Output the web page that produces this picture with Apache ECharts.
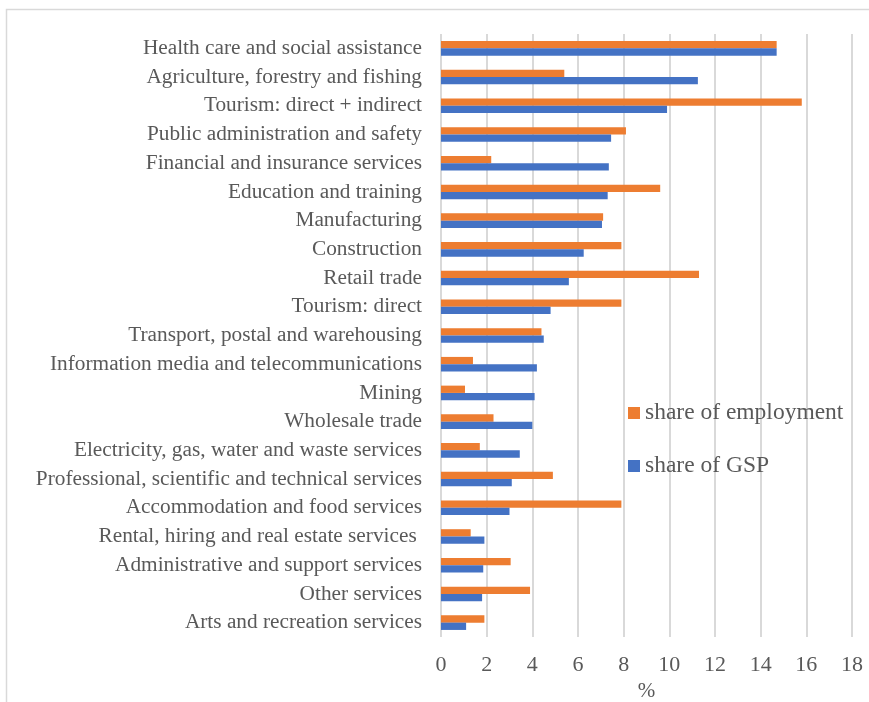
<!DOCTYPE html>
<html>
<head>
<meta charset="utf-8">
<script src="https://cdn.jsdelivr.net/npm/echarts@6/dist/echarts.min.js"></script>
<style>
  html, body { margin: 0; padding: 0; background: #fff; }
  #chart { width: 869px; height: 702px; }
</style>
</head>
<body>
<div id="chart"></div>
<script>
// Industries, top to bottom
const industries = [
    'Health care and social assistance',
    'Agriculture, forestry and fishing',
    'Tourism: direct + indirect',
    'Public administration and safety',
    'Financial and insurance services',
    'Education and training',
    'Manufacturing',
    'Construction',
    'Retail trade',
    'Tourism: direct',
    'Transport, postal and warehousing',
    'Information media and telecommunications',
    'Mining',
    'Wholesale trade',
    'Electricity, gas, water and waste services',
    'Professional, scientific and technical services',
    'Accommodation and food services',
    'Rental, hiring and real estate services ',
    'Administrative and support services',
    'Other services',
    'Arts and recreation services'
];

// % values
const shareEmployment = [14.7, 5.4, 15.8, 8.1, 2.2, 9.6, 7.1, 7.9, 11.3, 7.9, 4.4, 1.4, 1.05, 2.3, 1.7, 4.9, 7.9, 1.3, 3.05, 3.9, 1.9];
const shareGSP = [14.7, 11.25, 9.9, 7.45, 7.35, 7.3, 7.05, 6.25, 5.6, 4.8, 4.5, 4.2, 4.1, 4.0, 3.45, 3.1, 3.0, 1.9, 1.85, 1.8, 1.1];

const xTicks = { min: 0, max: 18, interval: 2 };

const FONT = '"Liberation Serif", "DejaVu Serif", serif';
const TEXT = '#595959';

const chart = echarts.init(document.getElementById('chart'));

chart.setOption({
    animation: false,
    textStyle: { fontFamily: FONT },
    graphic: [{
        type: 'rect',
        shape: { x: 6.5, y: 9.5, width: 900, height: 800 },
        style: { fill: 'none', stroke: '#d9d9d9', lineWidth: 1.5 },
        silent: true
    }],
    grid: { left: 441, right: 17, top: 34, bottom: 65, outerBoundsMode: 'none' },
    legend: {
        orient: 'vertical',
        left: 623,
        top: 396,
        itemWidth: 12,
        itemHeight: 12,
        itemGap: 29,
        icon: 'rect',
        textStyle: { fontFamily: FONT, fontSize: 23.5, color: TEXT },
        data: ['share of employment', 'share of GSP']
    },
    xAxis: {
        type: 'value',
        min: xTicks.min,
        max: xTicks.max,
        interval: xTicks.interval,
        name: '%',
        nameLocation: 'middle',
        nameGap: 41,
        nameTextStyle: { fontFamily: FONT, fontSize: 21, color: TEXT },
        axisLine: { show: false },
        axisTick: { show: false },
        axisLabel: { fontFamily: FONT, fontSize: 22, color: TEXT, margin: 17 },
        splitLine: { show: true, lineStyle: { color: '#d9d9d9', width: 2 } }
    },
    yAxis: {
        type: 'category',
        inverse: true,
        data: industries,
        axisLine: { show: false },
        axisTick: { show: false },
        axisLabel: { fontFamily: FONT, fontSize: 21.3, color: TEXT, margin: 19 }
    },
    series: [{
        name: 'share of employment',
        type: 'bar',
        data: shareEmployment,
        barWidth: 7.3,
        barGap: '0%',
        itemStyle: { color: '#ED7D31' }
    }, {
        name: 'share of GSP',
        type: 'bar',
        data: shareGSP,
        barWidth: 7.3,
        barGap: '0%',
        itemStyle: { color: '#4472C4' }
    }]
});
</script>
</body>
</html>
